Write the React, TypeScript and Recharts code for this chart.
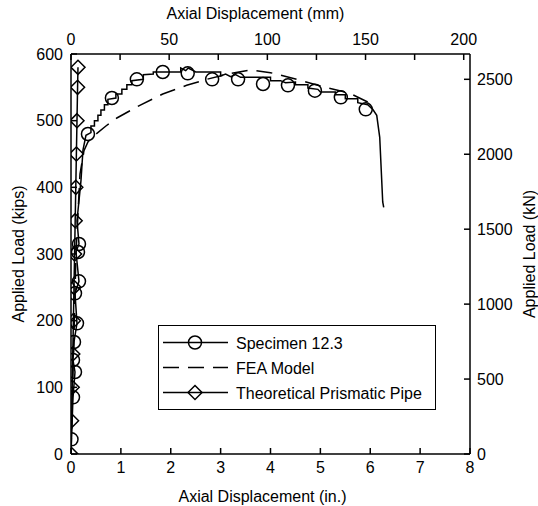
import React from 'react';
import { LineChart, Line, XAxis, YAxis, Legend, Label } from 'recharts';

// measured load-displacement curve for the specimen (in., kips)
const specimenDisp = [
  0, 0.01, 0.04, 0.08, 0.04, 0.06, 0.12, 0.08, 0.16, 0.1, 0.16, 0.12, 0.2, 0.24, 0.3, 0.4, 0.4, 0.47, 0.47,
  0.54, 0.54, 0.6, 0.6, 0.67, 0.67, 0.74, 0.74, 0.9, 0.9, 1.02, 1.02, 1.12, 1.12, 1.22, 1.22, 1.45, 1.45,
  1.65, 1.65, 2.2, 2.2, 2.3, 2.35, 2.45, 2.5, 3.0, 3.0, 3.1, 3.2, 3.3, 3.4, 4.0, 4.0, 4.2, 4.3, 4.5, 4.5,
  4.75, 4.75, 4.95, 5.0, 5.3, 5.3, 5.5, 5.5, 5.75, 5.75, 5.95, 6.05, 6.13, 6.19, 6.25, 6.27,
];
const specimenLoad = [
  0, 22, 85, 123, 141, 168, 196, 241, 259, 303, 315, 350, 410, 456, 478, 482, 492, 492, 500,
  500, 508, 508, 516, 516, 524, 524, 532, 534, 540, 540, 547, 547, 554, 554, 560, 562, 569,
  570, 573, 573, 579, 575, 579, 575, 573, 573, 567, 570, 566, 569, 565, 565, 560, 560, 557, 558, 554,
  554, 549, 547, 543, 543, 539, 539, 533, 533, 527, 524, 517, 508, 475, 378, 370,
];

// circle markers on the specimen curve
const circleDisp = [
  0.01, 0.04, 0.08, 0.04, 0.06, 0.12, 0.08, 0.16, 0.14, 0.16, 0.34, 0.82, 1.32, 1.84, 2.34, 2.83, 3.35,
  3.85, 4.35, 4.89, 5.41, 5.91,
];
const circleLoad = [
  22, 85, 123, 141, 168, 196, 241, 259, 303, 315, 480, 534, 562, 573, 571, 562, 562, 555, 553, 545,
  535, 517,
];

// FEA model
const feaDisp = [0, 0.1, 0.18, 0.26, 0.34, 0.44, 0.7, 0.92, 1.38, 1.84, 2.32, 2.72, 3.2, 3.6, 4.0, 4.53, 5.05, 5.59, 5.95, 6.02];
const feaLoad = [0, 300, 420, 455, 468, 476, 492, 504, 523, 540, 553, 562, 571, 576, 572, 562, 551, 541, 528, 520];

// theoretical prismatic pipe
const pipeDisp = [0, 0.012, 0.024, 0.036, 0.048, 0.06, 0.072, 0.084, 0.096, 0.108, 0.12, 0.132, 0.14];
const pipeLoad = [0, 50, 100, 150, 200, 250, 300, 350, 400, 450, 500, 550, 580];

const inchTicks = [0, 1, 2, 3, 4, 5, 6, 7, 8];
const mmTicks = [0, 25, 50, 75, 100, 125, 150, 175, 200];
const kipTicks = [0, 100, 200, 300, 400, 500, 600];
const knTicks = [0, 500, 1000, 1500, 2000, 2500];

const MM_PER_IN = 25.4;

const zip = (xs: number[], ys: number[]) => xs.map((x, i) => ({ x, y: ys[i] }));
const specimen = zip(specimenDisp, specimenLoad);
const circles = zip(circleDisp, circleLoad);
const fea = zip(feaDisp, feaLoad);
const pipe = zip(pipeDisp, pipeLoad);
// same specimen curve in mm, only so the top axis has a series
const specimenMm = zip(specimenDisp.map((d) => d * MM_PER_IN), specimenLoad);

const FONT = '"Liberation Sans", Arial, sans-serif';
const axisStroke = { stroke: '#000', strokeWidth: 1.5 };
const tickStyle = { fontSize: 16, fill: '#000', fontFamily: FONT };

const Diamond = (props: any) => {
  const { cx, cy, index } = props;
  if (cx == null || cy == null) return <g key={`d-${index}`} />;
  const r = 7;
  return (
    <path
      key={`d-${index}`}
      d={`M${cx},${cy - r}L${cx + r},${cy}L${cx},${cy + r}L${cx - r},${cy}Z`}
      fill="none"
      stroke="#000"
      strokeWidth={1.5}
    />
  );
};

const LegendBox = () => (
  <div style={{ width: 278, height: 85, border: '1.5px solid #000', background: '#fff', boxSizing: 'border-box' }}>
    <svg width={275} height={82} style={{ display: 'block' }}>
      <g stroke="#000" strokeWidth={1.5} fill="none">
        <line x1={4} y1={16.5} x2={69} y2={16.5} />
        <circle cx={36} cy={16.5} r={6.5} />
        <line x1={4} y1={41.5} x2={69} y2={41.5} strokeDasharray="16 9" />
        <line x1={4} y1={66.5} x2={69} y2={66.5} />
        <path d="M36,59.5L43,66.5L36,73.5L29,66.5Z" />
      </g>
      <g fontSize={16} fontFamily={FONT} fill="#000" dominantBaseline="central">
        <text x={77} y={17}>Specimen 12.3</text>
        <text x={77} y={42}>FEA Model</text>
        <text x={77} y={67}>Theoretical Prismatic Pipe</text>
      </g>
    </svg>
  </div>
);

export default function App() {
  return (
    <div style={{ position: 'absolute', left: 0, top: 0, background: '#fff' }}>
      <LineChart width={538} height={506} margin={{ top: 0, right: 0, bottom: 0, left: 0 }} style={{ fontFamily: FONT }}>
        <XAxis
          xAxisId="in"
          dataKey="x"
          type="number"
          domain={[0, 8]}
          ticks={inchTicks}
          height={52}
          axisLine={axisStroke}
          tickLine={axisStroke}
          tickSize={-6}
          tickMargin={14}
          tick={tickStyle}
          allowDataOverflow
        >
          <Label value="Axial Displacement (in.)" position="insideBottom" offset={4.5} dx={-8} style={{ fontSize: 16, fill: '#000', fontFamily: FONT }} />
        </XAxis>
        <XAxis
          xAxisId="mm"
          dataKey="x"
          orientation="top"
          type="number"
          domain={[0, 203.2]}
          ticks={mmTicks}
          tickFormatter={(v: number) => (v % 50 === 0 ? String(v) : '')}
          height={54}
          axisLine={axisStroke}
          tickLine={axisStroke}
          tickSize={-6}
          tickMargin={15}
          tick={tickStyle}
          allowDataOverflow
        >
          <Label value="Axial Displacement (mm)" position="insideTop" offset={7.6} dx={-15} style={{ fontSize: 16, fill: '#000', fontFamily: FONT }} />
        </XAxis>
        <YAxis
          yAxisId="kips"
          type="number"
          domain={[0, 600]}
          ticks={kipTicks}
          width={71}
          axisLine={axisStroke}
          tickLine={axisStroke}
          tickSize={-6}
          tickMargin={14}
          tick={tickStyle}
          allowDataOverflow
        >
          <Label
            value="Applied Load (kips)"
            position="insideLeft"
            angle={-90}
            offset={18}
            style={{ fontSize: 16, fill: '#000', fontFamily: FONT, textAnchor: 'middle' }}
          />
        </YAxis>
        <YAxis
          yAxisId="kn"
          orientation="right"
          type="number"
          domain={[0, 2668.9]}
          ticks={knTicks}
          width={68}
          axisLine={axisStroke}
          tickLine={axisStroke}
          tickSize={-6}
          tickMargin={13}
          tick={tickStyle}
          allowDataOverflow
        >
          <Label
            value="Applied Load (kN)"
            position="insideRight"
            angle={-90}
            offset={9}
            style={{ fontSize: 16, fill: '#000', fontFamily: FONT, textAnchor: 'middle' }}
          />
        </YAxis>
        <Line
          xAxisId="mm"
          yAxisId="kips"
          data={specimenMm}
          dataKey="y"
          stroke="none"
          dot={false}
          activeDot={false}
          legendType="none"
          isAnimationActive={false}
        />
        <Line
          xAxisId="in"
          yAxisId="kips"
          data={fea}
          dataKey="y"
          type="linear"
          stroke="#000"
          strokeWidth={1.5}
          strokeDasharray="16 9"
          dot={false}
          activeDot={false}
          isAnimationActive={false}
        />
        <Line
          xAxisId="in"
          yAxisId="kips"
          data={specimen}
          dataKey="y"
          type="linear"
          stroke="#000"
          strokeWidth={1.5}
          dot={false}
          activeDot={false}
          isAnimationActive={false}
        />
        <Line
          xAxisId="in"
          yAxisId="kips"
          data={circles}
          dataKey="y"
          stroke="none"
          dot={{ r: 6.5, fill: 'none', stroke: '#000', strokeWidth: 1.5 }}
          activeDot={false}
          isAnimationActive={false}
        />
        <Line
          xAxisId="in"
          yAxisId="kips"
          data={pipe}
          dataKey="y"
          type="linear"
          stroke="#000"
          strokeWidth={1.5}
          dot={Diamond}
          activeDot={false}
          isAnimationActive={false}
        />
        <Legend
          layout="horizontal"
          verticalAlign="middle"
          align="center"
          content={() => <LegendBox />}
          wrapperStyle={{ left: 158, top: 325, bottom: 'auto', width: 278, height: 85 }}
        />
      </LineChart>
    </div>
  );
}
